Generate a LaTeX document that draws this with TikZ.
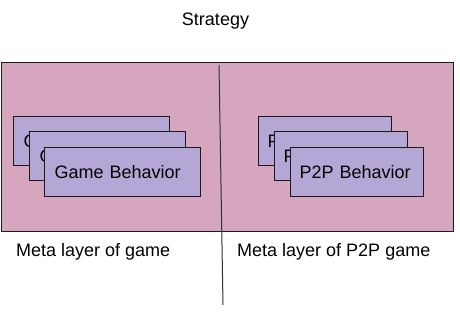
\documentclass[tikz,border=0pt]{standalone}
\usepackage{fontspec}
\setmainfont{Liberation Sans}
\definecolor{pinkfill}{HTML}{D5A6BD}
\definecolor{cardfill}{HTML}{B4A7D6}
\definecolor{edge}{HTML}{1A1A1A}
\begin{document}
\begin{tikzpicture}[x=1pt,y=-1pt,
  card/.style={draw=edge,fill=cardfill,line width=1pt,minimum height=49pt,
    inner xsep=10pt,inner ysep=0pt,align=left,font=\fontsize{18}{20}\selectfont},
  gcard/.style={card,text width=136pt},
  pcard/.style={card,text width=115pt,inner xsep=9pt},
  lbl/.style={font=\fontsize{18}{20}\selectfont,inner sep=0pt}]
\useasboundingbox (0,0) rectangle (460,313);
\node[draw=edge,fill=pinkfill,line width=1pt,minimum width=452pt,minimum height=169pt,inner sep=0pt,anchor=north west] (meta) at (1,62) {};
\coordinate (dtop) at (219,65);
\coordinate (dbot) at (223,305);
\draw[line width=1pt,draw=edge!90] (dtop) -- (dbot);
\node[lbl] (strat) at (215.5,21) {Strategy};
% left cards
\node[gcard,anchor=north west] (g1) at (13,116) {Game Behavior};
\node[gcard,anchor=north west] (g2) at (29,131) {Game Behavior};
\node[gcard,anchor=north west] (g3) at (44,147) {Game Behavior};
% right cards
\node[pcard,anchor=north west] (p1) at (258,116) {P2P Behavior};
\node[pcard,anchor=north west] (p2) at (274,131) {P2P Behavior};
\node[pcard,anchor=north west] (p3) at (290,147) {P2P Behavior};
\node[lbl,anchor=west] (lg) at (16,252) {Meta layer of game};
\node[lbl,anchor=west] (lp) at (237,252) {Meta layer of P2P game};
\end{tikzpicture}
\end{document}
